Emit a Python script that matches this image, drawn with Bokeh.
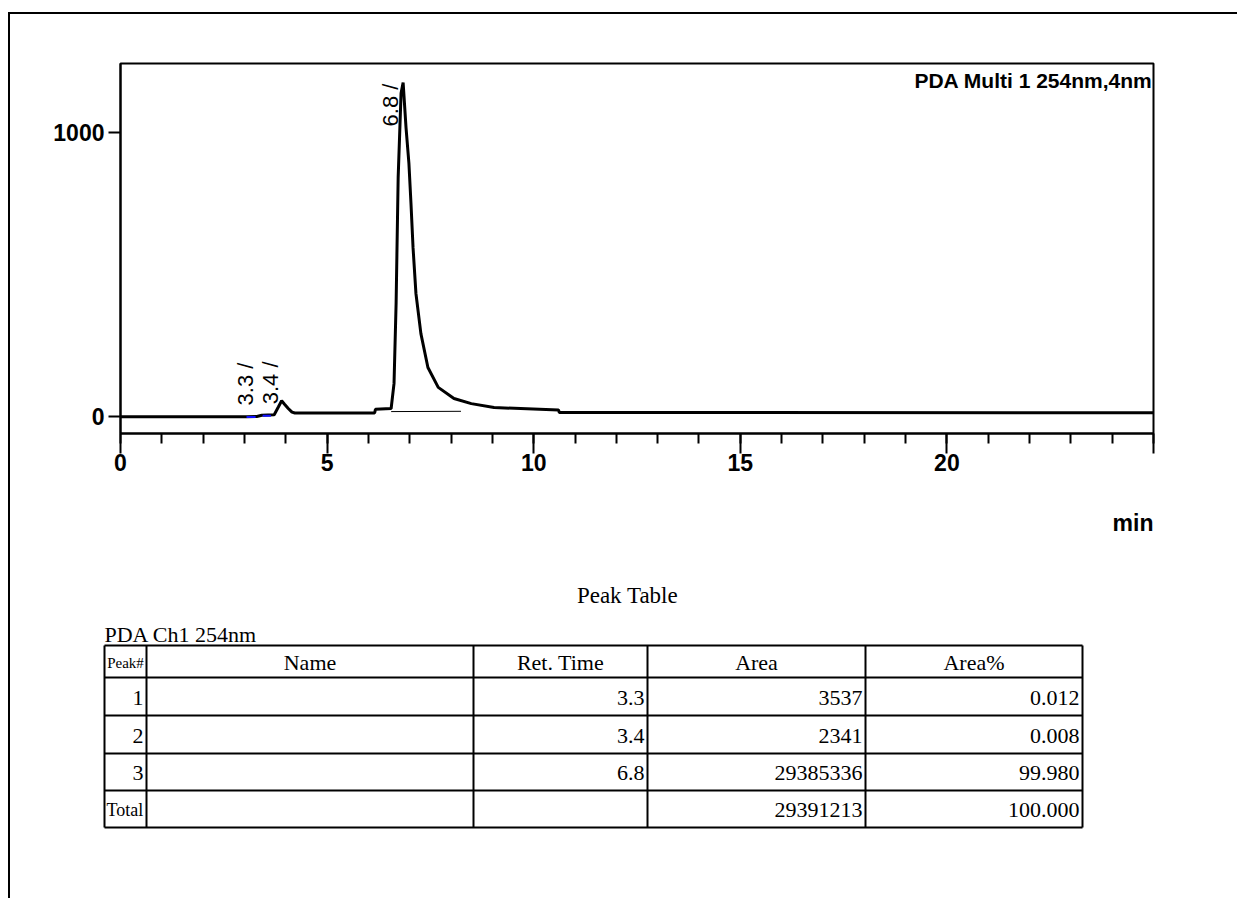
import math
from bokeh.plotting import figure
from bokeh.models import Range1d, FixedTicker, Label, ColumnDataSource, Spacer, Title
from bokeh.layouts import column, row
from bokeh.core.properties import value, field
from bokeh.embed import file_html
from bokeh.resources import INLINE

# ---------------- data ----------------
# chromatogram: time (min) vs detector signal (mAU)
time_min = [0.0, 3.05, 3.30, 3.42, 3.72, 3.82, 3.90, 3.97, 4.06, 4.15, 4.22,
            6.15, 6.17, 6.55, 6.62, 6.67, 6.72, 6.79, 6.84, 6.91, 6.98, 7.03,
            7.08, 7.15, 7.27, 7.44, 7.69, 8.07, 8.49, 9.04, 10.60, 10.62, 25.0]
signal = [1, 1, 2, 6, 8, 35, 57, 45, 30, 17, 14,
          14, 27, 30, 118, 399, 842, 1137, 1175, 1017, 891, 750,
          595, 434, 293, 174, 104, 65, 47, 33, 25, 16, 15]

# drawn integration baseline under the main peak
base_t = [6.55, 8.24]
base_y = [19, 20]
# peak start / end marks (blue)
mark_t0 = [3.05, 3.44]
mark_t1 = [3.27, 3.64]
mark_y = [0, 4]

# peak labels
peak_labels = ["3.3 /", "3.4 /", "6.8 /"]
peak_rt = [3.3, 3.4, 6.8]
peak_height = [2, 6, 1175]

x_ticks = [0, 5, 10, 15, 20, 25]
x_tick_labels = ["0", "5", "10", "15", "20", ""]
x_minor_ticks = list(range(0, 26))
y_ticks = [0, 1000]
y_tick_labels = ["0", "1000"]

detector_text = "PDA Multi 1 254nm,4nm"
x_unit = "min"

# peak table
table_title = "Peak Table"
channel_text = "PDA Ch1 254nm"
col_headers = ["Peak#", "Name", "Ret. Time", "Area", "Area%"]
peak_no = ["1", "2", "3", "Total"]
peak_name = ["", "", "", ""]
ret_time = ["3.3", "3.4", "6.8", ""]
area = ["3537", "2341", "29385336", "29391213"]
area_pct = ["0.012", "0.008", "99.980", "100.000"]

# ---------------- chromatogram figure ----------------
W = 1227
X0, X1 = 0, 25
Y0, Y1 = -58, 1242
FRAME_W, FRAME_H = 1033, 370
HA = 560

pA = figure(width=W, height=HA, x_range=Range1d(X0, X1), y_range=Range1d(Y0, Y1),
            output_backend="svg", toolbar_location=None,
            min_border_left=110, min_border_right=W - 110 - FRAME_W,
            min_border_top=49, min_border_bottom=HA - 49 - FRAME_H)
pA.frame_align = False
pA.xgrid.visible = False
pA.ygrid.visible = False
pA.outline_line_color = "black"
pA.outline_line_width = 2
pA.background_fill_color = "white"
pA.border_fill_color = "white"

pA.line(time_min, signal, line_color="black", line_width=3)
pA.line(base_t, base_y, line_color="black", line_width=1)
pA.segment(x0=mark_t0, y0=mark_y, x1=mark_t1, y1=mark_y, line_color="#1010ff", line_width=2)

# peak labels (rotated), shifted apart in screen space if they would collide
px_per_min = FRAME_W / (X1 - X0)
px_per_unit = FRAME_H / (Y1 - Y0)
lab_x, lab_y, lab_t, lab_xo, lab_yo, lab_al = [], [], [], [], [], []
prev = -1e9
for t, h, s in zip(peak_rt, peak_height, peak_labels):
    rt_px = t * px_per_min
    want = rt_px - 11
    if want < prev + 25:
        want = prev + 25
    prev = want
    room = (Y1 - h) * px_per_unit
    lab_x.append(t); lab_y.append(h); lab_t.append(s)
    lab_xo.append(want - rt_px)
    if room > 70:
        lab_al.append("left"); lab_yo.append(-11)
    else:
        lab_al.append("right"); lab_yo.append(1)
src = ColumnDataSource(dict(x=lab_x, y=lab_y, t=lab_t, xo=lab_xo, yo=lab_yo, al=lab_al))
pA.text(x="x", y="y", text="t", source=src, angle=math.pi / 2,
        x_offset=field("xo"), y_offset=field("yo"), text_align=field("al"),
        text_baseline="middle", text_font=value("Liberation Sans"),
        text_font_size="22px", text_color="black")

AXFONT = "Liberation Sans"
xa = pA.xaxis[0]
xa.ticker = FixedTicker(ticks=x_ticks, minor_ticks=x_minor_ticks)
xa.major_label_overrides = {t: l for t, l in zip(x_ticks, x_tick_labels)}
xa.axis_line_width = 2
xa.major_tick_in = 0
xa.major_tick_out = 20
xa.minor_tick_in = 0
xa.minor_tick_out = 10
xa.major_tick_line_width = 2
xa.minor_tick_line_width = 2
xa.major_label_standoff = 0
xa.major_label_text_font = AXFONT
xa.major_label_text_font_style = "bold"
xa.major_label_text_font_size = "23px"
xa.major_label_text_color = "black"

ya = pA.yaxis[0]
ya.ticker = FixedTicker(ticks=y_ticks, minor_ticks=[])
ya.major_label_overrides = {t: l for t, l in zip(y_ticks, y_tick_labels)}
ya.axis_line_width = 2
ya.major_tick_in = 0
ya.major_tick_out = 12
ya.major_tick_line_width = 2
ya.major_label_standoff = 4
ya.major_label_text_font = AXFONT
ya.major_label_text_font_style = "bold"
ya.major_label_text_font_size = "23px"
ya.major_label_text_color = "black"

# unit label, right-aligned under the axis
pA.add_layout(Title(text=x_unit, align="right", standoff=69, text_font=AXFONT,
                    text_font_style="bold", text_font_size="23px", text_color="black"),
              "below")

pA.add_layout(Label(x=X1, y=Y1, text=detector_text, text_align="right", text_baseline="top",
                    x_offset=-1, y_offset=-5, text_font=AXFONT, text_font_style="bold",
                    text_font_size="21px", text_color="black"))

# ---------------- peak table figure ----------------
TOP_B = 14 + HA
HB = 324
pB = figure(width=W, height=HB, x_range=Range1d(10, 10 + W), y_range=Range1d(TOP_B + HB, TOP_B),
            output_backend="svg", toolbar_location=None, min_border=0,
            x_axis_type=None, y_axis_type=None)
pB.frame_align = False
pB.xgrid.visible = False
pB.ygrid.visible = False
pB.outline_line_color = None
pB.background_fill_color = "white"
pB.border_fill_color = "white"

col_x = [104, 146, 473, 647, 865, 1082]
row_y = [645, 677, 715, 753, 790, 827]
TF = value("Liberation Serif")

pB.segment(x0=[col_x[0]] * len(row_y), y0=row_y, x1=[col_x[-1]] * len(row_y), y1=row_y,
           line_color="black", line_width=2)
pB.segment(x0=col_x, y0=[row_y[0]] * len(col_x), x1=col_x, y1=[row_y[-1]] * len(col_x),
           line_color="black", line_width=2)

pB.text(x=[(col_x[0] + col_x[-1]) / 2 + 34], y=[595], text=[table_title], text_align="center",
        text_baseline="middle", text_font=TF, text_font_size="23px", text_color="black")
pB.text(x=[col_x[0]], y=[row_y[0] + 1], text=[channel_text], text_align="left",
        text_baseline="bottom", text_font=TF, text_font_size="22px", text_color="black")

# headers
hx = [(a + b) / 2 for a, b in zip(col_x[:-1], col_x[1:])]
hy = (row_y[0] + row_y[1]) / 2 + 1
pB.text(x=hx[1:], y=[hy] * (len(hx) - 1), text=col_headers[1:], text_align="center",
        text_baseline="middle", text_font=TF, text_font_size="22px", text_color="black")
pB.text(x=[hx[0]], y=[hy], text=[col_headers[0]], text_align="center",
        text_baseline="middle", text_font=TF, text_font_size="15px", text_color="black")

# body
cy = [(a + b) / 2 + 1 for a, b in zip(row_y[1:-1], row_y[2:])]
num_rows = [i for i, s in enumerate(peak_no) if s.isdigit()]
pB.text(x=[col_x[1] - 3] * len(num_rows), y=[cy[i] for i in num_rows],
        text=[peak_no[i] for i in num_rows], text_align="right", text_baseline="middle",
        text_font=TF, text_font_size="22px", text_color="black")
tot_rows = [i for i, s in enumerate(peak_no) if not s.isdigit()]
pB.text(x=[col_x[0] + 2] * len(tot_rows), y=[cy[i] for i in tot_rows],
        text=[peak_no[i] for i in tot_rows], text_align="left", text_baseline="middle",
        text_font=TF, text_font_size="18px", text_color="black")
for ci, vals in ((1, peak_name), (2, ret_time), (3, area), (4, area_pct)):
    pB.text(x=[col_x[ci + 1] - 3] * len(vals), y=cy, text=vals, text_align="right",
            text_baseline="middle", text_font=TF, text_font_size="22px", text_color="black")

inner = column(pA, pB, spacing=0,
               styles={"border-left": "2px solid black", "border-top": "2px solid black"})
layout = column(Spacer(height=12, width=W + 10),
                row(Spacer(width=8, height=HA + HB), inner, spacing=0),
                spacing=0)

open("out.html", "w").write(file_html(layout, INLINE))
